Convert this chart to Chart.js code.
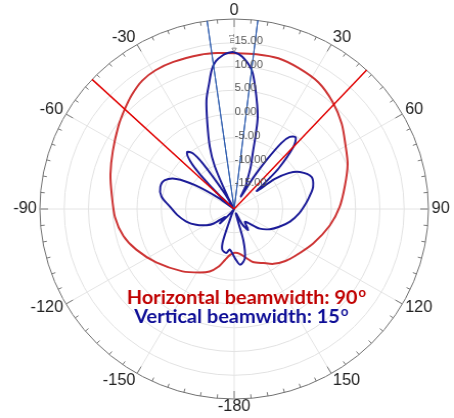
<!DOCTYPE html>
<html>
<head>
<meta charset="utf-8">
<script src="https://cdn.jsdelivr.net/npm/chart.js@4.4.1/dist/chart.umd.min.js"></script>
<style>
  html, body { margin: 0; padding: 0; background: #fff; overflow: hidden; }
  /* the source picture is a little wider than tall, so stretch the plot slightly */
  #wrap { width: 444px; height: 418px; position: relative; transform: scaleX(1.0225); transform-origin: 0 0; }
</style>
</head>
<body>
<div id="wrap"><canvas id="pattern"></canvas></div>
<script>
// Antenna radiation pattern, angle in degrees clockwise from top, gain in dB

// horizontal cut (red)
const H_ANGLES = [-175, -170, -165, -159, -152, -141, -125, -113, -104, -94, -83, -74, -64, -54, -47, -41,
    -35, -29, -22, -12, -6, 0, 8, 16, 24, 33, 42, 51, 60, 68, 78, 89, 100, 114, 129, 136, 145, 152, 161, 166, 173, 179];
const H_GAIN = [-10.3, -9.1, -7.4, -5.9, -4.85, -3.1, -0.4, 1.9, 3.5, 4.6, 5.4, 6.5, 7.8, 9.5, 10.8, 12.0,
    13.0, 13.4, 13.4, 13.2, 13.0, 12.8, 12.9, 13.0, 12.5, 11.8, 10.3, 8.5, 6.5, 5.2, 3.3, 1.7, 0.0, -2.2, -4.1, -4.8, -5.9, -7.1, -8.2, -9.3, -10.5, -10.8];

// vertical cut (blue)
const V_ANGLES = [-174, -170, -164, -161, -156, -146, -140, -136, -132, -126, -121, -113, -105, -96, -88, -80,
    -73, -67, -62, -58, -54, -50, -47, -44, -42, -39, -36, -34, -31, -29, -27, -24, -21, -17, -14, -11,
    -9, -7, -4, -2, 0, 3, 7, 10, 14, 16, 18, 21, 24, 26, 28, 31, 33, 35, 37, 40, 43, 47, 49, 51,
    53, 56, 60, 67, 74, 80, 85, 94, 103, 112, 120, 128, 136, 141, 147, 153, 159, 164, 168, 174, 179];
const V_GAIN = [-11.4, -10.6, -11.1, -13.1, -19, -20, -19, -15.8, -17.5, -14.8, -13.4, -11.5, -9.8, -8.2, -6.8, -4.8,
    -4.1, -4.5, -6.5, -10.5, -16, -20, -16, -10, -6.5, -4.6, -5.5, -8.5, -16, -20, -17, -10.2, -6.0, -1.1, 3.6, 7.0,
    9.6, 11.3, 12.5, 12.9, 13.0, 12.1, 9.5, 5.4, 0.0, -4.1, -7.6, -10.5, -13.5, -14.5, -17, -12, -7.5, -3.0, -1.0, -0.3, -2.1, -7.5, -11.7, -14.0,
    -9.5, -6.5, -4.4, -2.7, -3.1, -4.2, -5.1, -6.6, -8.2, -10.0, -11.5, -13.3, -16.0, -16.5, -14.7, -16.5, -19, -13.2, -9.4, -8.2, -9.6];

const H_BEAM = [-47, 43];   // 90 deg horizontal beamwidth
const V_BEAM = [-8, 7];     // 15 deg vertical beamwidth
const MARKER = [0, 13.6];   // m1

const ANGLE_TICKS = [0, 30, 60, 90, 120, 150, 180, 210, 240, 270, 300, 330];
const ANGLE_TEXT = ['0', '30', '60', '90', '120', '150', '-180', '-150', '-120', '-90', '-60', '-30'];
const RING_VALUES = [-15, -10, -5, 0, 5, 10, 15];
const R_MIN = -20;
const R_MAX = 20;

const LABEL_FONT = '16px "Liberation Sans", Arial, sans-serif';
const NOTE_FONT = 'bold 19.5px Lato, "Open Sans", sans-serif';
const NOTE_SUP_FONT = 'bold 13px Lato, "Open Sans", sans-serif';

const idx = (a) => ((Math.round(a) % 360) + 360) % 360;

function toSeries(angles, values) {
    const out = new Array(360).fill(null);
    angles.forEach((a, i) => { out[idx(a)] = values[i]; });
    return out;
}

// a ray from the centre to the outer ring
function ray(a) {
    const out = new Array(360).fill(null);
    out[idx(a)] = R_MAX;
    out[idx(a + 1)] = R_MIN;
    return out;
}

const labels = Array.from({ length: 360 }, (_, i) => String(i));

const lineDs = (data, color, width, tension) => ({
    data, borderColor: color, borderWidth: width, tension, fill: false,
    spanGaps: true, pointRadius: 0, backgroundColor: 'transparent',
});

const polarDecor = {
    id: 'polarDecor',
    beforeDatasetsDraw(chart) {
        const r = chart.scales.r;
        const ctx = chart.ctx;
        ctx.save();
        // outer tick marks every 5 deg
        ctx.strokeStyle = '#777';
        ctx.lineWidth = 1;
        for (let a = 0; a < 360; a += 5) {
            const len = a % 30 === 0 ? 8 : 4;
            const p1 = r.getPointPosition(a, r.drawingArea);
            const p2 = r.getPointPosition(a, r.drawingArea - len);
            ctx.beginPath();
            ctx.moveTo(p1.x, p1.y);
            ctx.lineTo(p2.x, p2.y);
            ctx.stroke();
        }
        // angle labels just outside the ring
        ctx.font = LABEL_FONT;
        ctx.fillStyle = '#222';
        ctx.textBaseline = 'middle';
        ANGLE_TICKS.forEach((a, k) => {
            const px = r.getPointPosition(a, r.drawingArea + 3).x;
            const py = r.getPointPosition(a, r.drawingArea + 8).y;
            ctx.textAlign = (a === 0 || a === 180) ? 'center' : (a < 180 ? 'left' : 'right');
            ctx.fillText(ANGLE_TEXT[k], px, py);
        });
        ctx.restore();
    },
    afterDatasetsDraw(chart) {
        const r = chart.scales.r;
        const ctx = chart.ctx;
        ctx.save();
        // ring values
        ctx.font = '11px "Liberation Sans", Arial, sans-serif';
        ctx.fillStyle = '#555';
        ctx.textAlign = 'left';
        ctx.textBaseline = 'middle';
        RING_VALUES.forEach((v) => {
            const d = r.getDistanceFromCenterForValue(v);
            ctx.fillText(v.toFixed(2), r.xCenter + 0.5, r.yCenter - d - 2);
        });

        // m1 marker text
        const pm = r.getPointPosition(idx(MARKER[0]), r.getDistanceFromCenterForValue(MARKER[1]));
        ctx.save();
        ctx.translate(pm.x - 2, pm.y - 6);
        ctx.rotate(-Math.PI / 2);
        ctx.font = '7px "Liberation Sans", Arial, sans-serif';
        ctx.fillStyle = '#666';
        ctx.fillText('m1', 0, 0);
        ctx.restore();

        // beamwidth notes
        const notes = [
            { text: 'Horizontal beamwidth: 90', color: '#c00000', dx: 12, dy: 89 },
            { text: 'Vertical beamwidth: 15', color: '#0d0d96', dx: 7, dy: 108 },
        ];
        notes.forEach((n) => {
            ctx.font = NOTE_FONT;
            const w = ctx.measureText(n.text).width;
            ctx.font = NOTE_SUP_FONT;
            const wo = ctx.measureText('o').width;
            const x0 = r.xCenter + n.dx - (w + wo + 1) / 2;
            const y = r.yCenter + n.dy;
            ctx.fillStyle = n.color;
            ctx.textAlign = 'left';
            ctx.textBaseline = 'middle';
            ctx.font = NOTE_FONT;
            ctx.fillText(n.text, x0, y);
            ctx.font = NOTE_SUP_FONT;
            ctx.fillText('o', x0 + w + 1, y - 5);
        });
        ctx.restore();
    },
};

new Chart(document.getElementById('pattern'), {
    type: 'radar',
    data: {
        labels,
        datasets: [
            lineDs(ray(H_BEAM[0]), '#e00000', 1.5, 0),
            lineDs(ray(H_BEAM[1]), '#e00000', 1.5, 0),
            lineDs(ray(V_BEAM[0]), '#2b5aad', 1, 0),
            lineDs(ray(V_BEAM[1]), '#2b5aad', 1, 0),
            {
                data: toSeries([MARKER[0]], [MARKER[1]]),
                showLine: false, pointRadius: 2.5, pointStyle: 'triangle', rotation: 180,
                pointBorderColor: '#777', pointBackgroundColor: 'transparent', pointBorderWidth: 0.8,
            },
            lineDs(toSeries(V_ANGLES, V_GAIN), '#1c1c98', 2, 0.3),
            lineDs(toSeries(H_ANGLES, H_GAIN), '#cd3434', 2, 0.25),
        ],
    },
    options: {
        responsive: true,
        maintainAspectRatio: false,
        animation: false,
        events: [],
        layout: { padding: { left: 14, right: 0, top: 19, bottom: 19 } },
        plugins: { legend: { display: false }, tooltip: { enabled: false } },
        scales: {
            r: {
                min: R_MIN,
                max: R_MAX,
                ticks: { stepSize: 5, display: false },
                grid: {
                    circular: true,
                    color: (c) => (c.tick && c.tick.value === R_MAX ? '#707070' : '#e2e2e2'),
                    lineWidth: 1,
                },
                angleLines: {
                    color: '#e4e4e4',
                    lineWidth: (c) => (c.index % 30 === 0 ? 1 : 0),
                },
                pointLabels: { display: false },
            },
        },
    },
    plugins: [polarDecor],
});
</script>
</body>
</html>
